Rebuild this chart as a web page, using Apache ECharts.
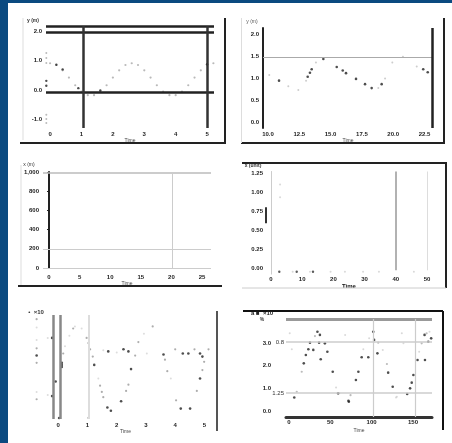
<!DOCTYPE html>
<html><head><meta charset="utf-8">
<script src="https://cdn.jsdelivr.net/npm/echarts@6/dist/echarts.min.js"></script>
<style>html,body{margin:0;padding:0;background:#0b4a80;}#c{width:452px;height:443px;}</style>
</head><body><div id="c"></div>
<script>
// ---------- Panel 1 (top-left) ----------
const p1TicksX = [0, 1, 2, 3, 4, 5];
const p1TicksY = [2, 1, 0, -1];
const p1CurveX = [0,0.2,0.4,0.6,0.8,1.0,1.2,1.4,1.6,1.8,2.0,2.2,2.4,2.6,2.8,3.0,3.2,3.4,3.6,3.8,4.0,4.2,4.4,4.6,4.8,5.0,5.2];
const p1CurveY = [0.91,0.85,0.67,0.42,0.16,-0.06,-0.18,-0.18,-0.06,0.16,0.42,0.67,0.85,0.91,0.85,0.67,0.42,0.16,-0.06,-0.18,-0.18,-0.06,0.16,0.42,0.67,0.85,0.91];
const p1DarkX = [0.2, 0.4, 0.9, 1.6, 5.0];
const p1DarkY = [0.86, 0.7, 0.06, -0.02, 0.88];
const p1AxisDotX = [-0.12,-0.12,-0.12,-0.12,-0.12,-0.12];
const p1AxisDotY = [1.26,1.09,0.92,-0.85,-0.99,-1.13];
const p1AxisDarkX = [-0.12,-0.12];
const p1AxisDarkY = [0.31,0.14];
const p1HLines = [2.18, 1.98, -0.07];
const p1VLines = [1.05, 5.0];

// ---------- Panel 2 (top-right) ----------
const p2TicksX = [10, 12.5, 15, 17.5, 20, 22.5];
const p2TicksY = [0, 0.5, 1, 1.5, 2];
const p2BlackX = [10.88,13.17,13.35,13.49,14.42,15.49,15.97,16.23,17.03,17.75,18.28,19.08,22.4,22.76];
const p2BlackY = [0.94,1.03,1.12,1.2,1.43,1.25,1.17,1.11,0.98,0.86,0.77,0.86,1.2,1.13];
const p2GreyX = [10.1,11.62,12.42,13.04,13.83,18.81,19.35,19.93,20.78,21.88];
const p2GreyY = [1.07,0.81,0.73,0.94,1.35,0.77,0.99,1.35,1.48,1.26];
const p2HLine = 1.48;
const p2VLine = 23.1;

// ---------- Panel 3 (middle-left) ----------
const p3TicksX = [0, 5, 10, 15, 20, 25];
const p3HLines = [990, 200, 0];
const p3VLine = 20.2;

// ---------- Panel 4 (middle-right) ----------
const p4TicksX = [0, 10, 20, 30, 40, 50];
const p4TicksY = [0, 0.25, 0.5, 0.75, 1, 1.25];
const p4DarkX = [2.66, 8.24, 13.46];
const p4DarkY = [-0.05, -0.05, -0.05];
const p4LightX = [6.95, 12.5, 19.1, 23.7, 29.5, 34.6, 45.8, 2.9, 2.9];
const p4LightY = [-0.05, -0.05, -0.05, -0.05, -0.05, -0.05, -0.05, 1.1, 0.93];
const p4VLines = [40, 50];
const p4Seg = [0.59, 0.80];

// ---------- Panel 5 (bottom-left) ----------
const p5TicksX = [0, 1, 2, 3, 4, 5];
const p5DarkX = [1.23,1.68,1.80,2.15,2.49,3.60,4.19,4.51,4.85,4.93,4.85,1.71,2.23,2.40,4.26,4.45,-0.21,-0.21,0.12,0.12,0.12,-0.09,0.03,-0.74];
const p5DarkY = [0.52,0.11,0.08,0.17,0.48,0.62,0.10,0.10,0.39,0.60,0.63,0.65,0.67,0.65,0.63,0.63,0.78,0.22,0.54,0.52,0.50,0.36,0.01,0.61];
const p5GreyX = [0.17,0.51,0.97,1.03,1.09,1.18,1.43,1.49,1.54,2.32,2.40,2.63,2.74,3.23,3.65,3.73,4.03,4.74,4.93,4.99,4.0,4.66,5.14,1.03,-0.74,-0.74,-0.74,-0.74];
const p5GreyY = [0.63,0.87,0.78,0.73,0.67,0.60,0.32,0.26,0.21,0.27,0.33,0.61,0.74,0.89,0.57,0.46,0.18,0.27,0.47,0.55,0.67,0.67,0.67,0.01,0.96,0.68,0.54,0.19];
const p5LightX = [0.23,0.38,0.57,0.80,1.37,2.93,3.85,1.54,2.0,3.03,-0.36,-0.36,-0.74,-0.74,-0.74];
const p5LightY = [0.70,0.80,0.89,0.87,0.39,0.82,0.39,0.66,0.64,0.63,0.78,0.23,0.88,0.76,0.26];
const p5VLines = [-0.17, 0.06];
const p5VLight = 1.03;

// ---------- Panel 6 (bottom-right) ----------
const p6TicksX = [0, 1, 2, 3];
const p6LabelsX = ['0', '50', '100', '150'];
const p6TicksY = [0, 1, 2, 3];
const p6DarkX = [0.13,0.36,0.41,0.47,0.51,0.59,0.69,0.75,0.73,0.77,0.87,0.93,1.06,1.19,1.44,1.45,1.62,1.68,1.76,1.92,2.04,2.06,2.14,2.40,2.51,2.86,2.93,2.97,3.01,3.11,3.28,3.37,3.44,3.29];
const p6DarkY = [0.60,2.10,2.47,2.72,3.01,2.69,3.49,3.35,3.01,2.28,2.98,2.61,1.73,0.78,0.45,0.41,1.37,1.73,2.37,2.37,3.49,3.13,2.54,1.69,1.07,0.75,1.00,1.25,1.59,2.25,3.35,3.05,3.20,2.25];
const p6GreyX = [0.19,0.31,0.63,1.49,2.16,2.37,3.21,3.33];
const p6GreyY = [0.85,1.73,3.30,0.70,3.01,2.07,2.98,3.42];
const p6LightX = [1.14,1.22,1.36,1.80,1.94,2.27,2.59,2.61,2.73,2.77,3.15,3.40,0.02,0.07];
const p6LightY = [1.04,0.78,3.35,2.72,3.20,2.69,0.60,0.63,3.42,2.98,2.61,3.49,3.42,2.72];
const p6HLines = [3.04, 0.79];
const p6HLabels = ['0.8', '1.25'];
const p6VLines = [2.03, 3.05];

// ---------- builders ----------
const FONT = 'Liberation Sans';
const pts = (xs, ys) => xs.map((x, i) => [x, ys[i]]);
function seg(x1, y1, x2, y2, c, w, lab) {
  return [{coord: [x1, y1], lineStyle: {color: c, width: w, type: 'solid'},
           label: lab ? {show: true, formatter: lab, position: 'start', fontSize: 6, color: '#333', fontFamily: FONT, distance: 2} : {show: false}},
          {coord: [x2, y2]}];
}
function sc(gi, xs, ys, color, size) {
  return {type: 'scatter', xAxisIndex: gi, yAxisIndex: gi, data: pts(xs, ys), symbolSize: size || 2.2,
          itemStyle: {color: color}, silent: true, z: 3};
}
function lines(gi, data) {
  return {type: 'scatter', xAxisIndex: gi, yAxisIndex: gi, data: [], silent: true, z: 2,
          markLine: {symbol: ['none', 'none'], silent: true, animation: false, label: {show: false}, data: data}};
}
function xAx(gi, min, max, vals, margin, name, gap, fmt) {
  return {type: 'value', gridIndex: gi, min: min, max: max,
    axisLine: {show: false}, axisTick: {show: false}, splitLine: {show: false},
    axisLabel: {customValues: vals, fontSize: 6, color: '#222', fontWeight: 'bold', fontFamily: FONT, margin: margin, formatter: fmt},
    name: name, nameLocation: 'middle', nameGap: gap, nameTextStyle: {fontSize: 5, color: '#444', fontFamily: FONT}};
}
function yAx(gi, min, max, vals, margin, fmt, extra) {
  return Object.assign({type: 'value', gridIndex: gi, min: min, max: max,
    axisLine: {show: false}, axisTick: {show: false}, splitLine: {show: false},
    axisLabel: {customValues: vals, fontSize: 6, color: '#222', fontWeight: 'bold', fontFamily: FONT, margin: margin, formatter: fmt}}, extra || {});
}
function gl(x1, y1, x2, y2, c, w) {
  return {type: 'line', shape: {x1: x1, y1: y1, x2: x2, y2: y2}, style: {stroke: c, lineWidth: w}, z: 100, silent: true};
}
function gt(x, y, t, size, color, bold) {
  return {type: 'text', x: x, y: y, style: {text: t, fontSize: size || 6, fill: color || '#222', fontFamily: FONT, fontWeight: bold ? 'bold' : 'normal', align: 'center', verticalAlign: 'middle'}, z: 100, silent: true};
}

const grids = [
  {left: 46, top: 24, width: 168, height: 104},
  {left: 263, top: 28, width: 170, height: 100},
  {left: 43, top: 172, width: 168, height: 96},
  {left: 266, top: 171.5, width: 166, height: 102.6},
  {left: 34, top: 315, width: 183, height: 104},
  {left: 286, top: 319, width: 146, height: 98}
];

const xAxes = [
  xAx(0, -0.13, 5.22, p1TicksX, 3, 'Time', 9),
  xAx(1, 9.6, 23.18, p2TicksX, 3, 'Time', 9, v => v.toFixed(1)),
  xAx(2, -0.98, 26.47, p3TicksX, 6, 'Time', 13),
  xAx(3, -1.6, 51.6, p4TicksX, 2, 'Time', 8),
  xAx(4, -0.83, 5.43, p5TicksX, 3, 'Time', 9),
  xAx(5, -0.07, 3.46, p6TicksX, 2, 'Time', 11, v => p6LabelsX[p6TicksX.indexOf(v)])
];
xAxes[3].nameTextStyle = {fontSize: 6, color: '#111', fontWeight: 'bold', fontFamily: FONT};
xAxes[5].axisLine = {show: true, onZero: false, lineStyle: {color: '#333', width: 3}};

const yAxes = [
  yAx(0, -1.3, 2.25, p1TicksY, 4, v => v.toFixed(1)),
  yAx(1, -0.136, 2.136, p2TicksY, 4, v => v.toFixed(1), {axisLine: {show: true, lineStyle: {color: '#222', width: 2}}}),
  yAx(2, 0, 1000, null, 3, null, {interval: 200, axisLabel: {fontSize: 6, color: '#222', fontWeight: 'bold', fontFamily: FONT, margin: 4},
      axisLine: {show: true, lineStyle: {color: '#222', width: 2}}, axisTick: {show: true, length: 2, lineStyle: {color: '#222'}}}),
  yAx(3, -0.08, 1.27, p4TicksY, 3, v => v.toFixed(2), {axisLine: {show: true, lineStyle: {color: '#ccc', width: 1}}}),
  yAx(4, 0, 1, [], 3, null, {axisLabel: {show: false}}),
  yAx(5, -0.26, 4.05, p6TicksY, 15, v => v.toFixed(1))
];

const series = [
  // panel 1
  lines(0, [
    ...p1HLines.map(v => seg(-0.13, v, 5.22, v, '#222', 2.5)),
    ...p1VLines.map(v => seg(v, 2.18, v, -1.3, '#333', 2.5))
  ]),
  sc(0, p1CurveX, p1CurveY, '#a8a8a8', 2.2),
  sc(0, p1DarkX, p1DarkY, '#222', 2.4),
  sc(0, p1AxisDotX, p1AxisDotY, '#aaa', 2),
  sc(0, p1AxisDarkX, p1AxisDarkY, '#222', 2.4),
  // panel 2
  lines(1, [
    seg(9.6, p2HLine, 23.18, p2HLine, '#aaa', 1),
    seg(p2VLine, -0.136, p2VLine, 2.136, '#222', 2.5)
  ]),
  sc(1, p2GreyX, p2GreyY, '#c0c0c0', 2),
  sc(1, p2BlackX, p2BlackY, '#222', 2.6),
  // panel 3
  lines(2, [
    seg(-0.98, p3HLines[0], 26.47, p3HLines[0], '#bbb', 1.5),
    seg(-0.98, p3HLines[1], 26.47, p3HLines[1], '#ccc', 1),
    seg(-0.98, p3HLines[2], 26.47, p3HLines[2], '#ccc', 1),
    seg(p3VLine, 0, p3VLine, 1000, '#ccc', 1)
  ]),
  // panel 4
  lines(3, [
    seg(p4VLines[0], -0.03, p4VLines[0], 1.27, '#999', 1.5),
    seg(p4VLines[1], -0.03, p4VLines[1], 1.27, '#ddd', 1),
    seg(-1.6, p4Seg[0], -1.6, p4Seg[1], '#333', 2)
  ]),
  sc(3, p4LightX, p4LightY, '#d0d0d0', 2),
  sc(3, p4DarkX, p4DarkY, '#333', 2.4),
  // panel 5
  lines(4, [
    ...p5VLines.map(v => seg(v, 1, v, 0, '#888', 2.5)),
    seg(p5VLight, 1, p5VLight, 0, '#ddd', 2)
  ]),
  sc(4, p5LightX, p5LightY, '#d4d4d4', 2),
  sc(4, p5GreyX, p5GreyY, '#999', 2.2),
  sc(4, p5DarkX, p5DarkY, '#222', 2.6),
  // panel 6
  lines(5, [
    seg(-0.07, 4.02, 3.46, 4.02, '#999', 3),
    ...p6HLines.map((v, i) => seg(-0.07, v, 3.46, v, '#ccc', 1.5, p6HLabels[i])),
    ...p6VLines.map(v => seg(v, -0.26, v, 4.05, '#ccc', 1.2))
  ]),
  sc(5, p6LightX, p6LightY, '#d0d0d0', 2),
  sc(5, p6GreyX, p6GreyY, '#aaa', 2.2),
  sc(5, p6DarkX, p6DarkY, '#222', 2.6)
];

const graphic = [
  {type: 'rect', shape: {x: 8, y: 3, width: 444, height: 440}, style: {fill: '#ffffff'}, z: -10, silent: true},
  // frames
  gl(20, 143, 226, 143, '#222', 2), gl(225, 18, 225, 143, '#222', 2), gl(23, 18, 23, 140, '#ddd', 1),
  gl(241, 143, 445, 143, '#222', 2), gl(444, 18, 444, 143, '#222', 2), gl(241.5, 18, 241.5, 143, '#ddd', 1),
  gl(18, 286, 222, 286, '#222', 2), gl(21, 165, 21, 285, '#ddd', 1),
  gl(242, 163, 447, 163, '#222', 2), gl(446, 163, 446, 288, '#222', 2), gl(242, 288, 446, 288, '#ccc', 1),
  gl(217, 311, 217, 431, '#555', 2),
  gl(243, 311, 443, 311, '#111', 2), gl(443, 311, 443, 430, '#111', 2),
  // y-axis titles
  gt(33, 21, 'y (m)', 5, '#333', true),
  gt(252, 22, 'y (m)', 5, '#555'),
  gt(29, 165, 'x (m)', 5, '#333'),
  gt(253, 166, 'x (unit)', 5, '#333', true),
  gt(36, 312, '•  ×10', 6, '#333', true),
  gt(262, 313, 'a ■  ×10', 6, '#222', true),
  gt(262, 320, '%', 5, '#333', true)
];

const chart = echarts.init(document.getElementById('c'));
chart.setOption({
  animation: false,
  backgroundColor: '#0b4a80',
  grid: grids,
  xAxis: xAxes,
  yAxis: yAxes,
  series: series,
  graphic: graphic
});
</script>
</body></html>
